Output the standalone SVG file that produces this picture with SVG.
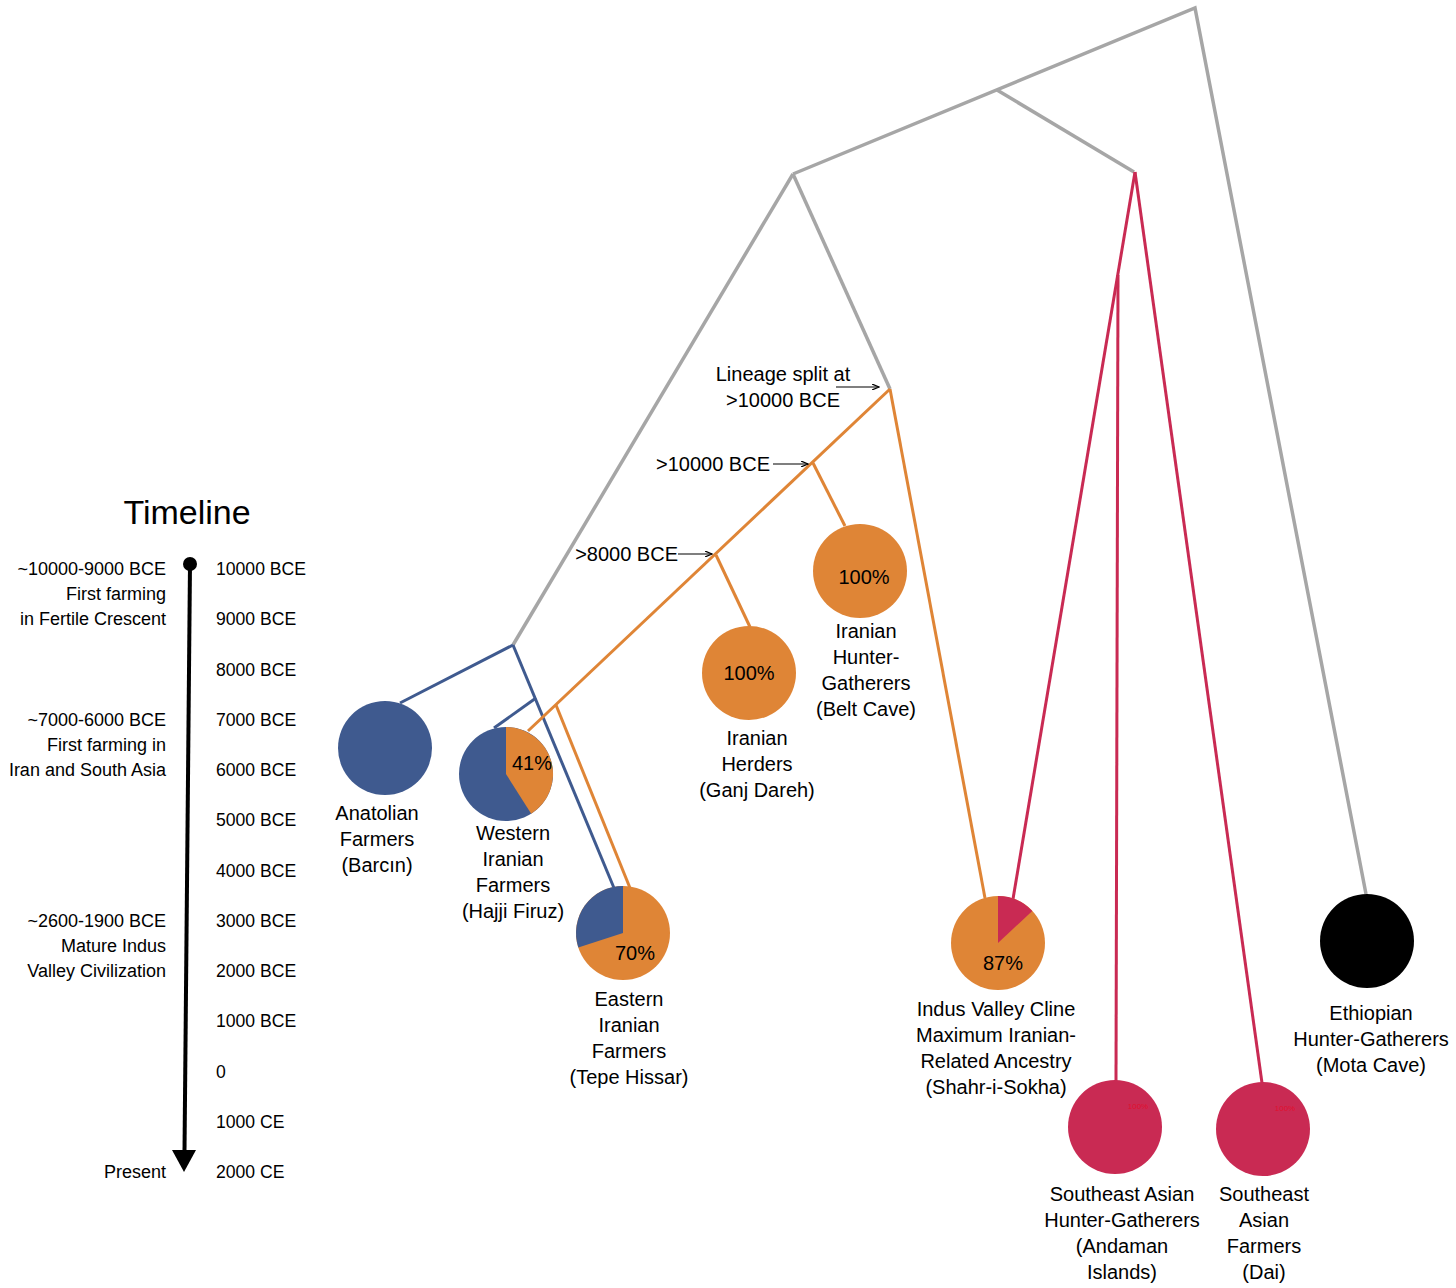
<svg xmlns="http://www.w3.org/2000/svg" width="1456" height="1288" viewBox="0 0 1456 1288">
<defs>
<style>
text{font-family:"Liberation Sans",Arial,sans-serif;fill:#000}
.t{font-size:17.6px}
.tl{font-size:18px;text-anchor:end}
.lb{font-size:20px;text-anchor:middle}
.pc{font-size:20px;text-anchor:middle}
.sm{font-size:8px;fill:#e0102e;text-anchor:middle}
.g{stroke:#a6a6a6;stroke-width:3.5;fill:none}
.b{stroke:#3f5a8f;stroke-width:3;fill:none}
.o{stroke:#df8536;stroke-width:3;fill:none}
.p{stroke:#c92a53;stroke-width:3;fill:none}
.ar{stroke:#000;stroke-width:1.2;fill:none}
</style>
<marker id="ah" markerWidth="8" markerHeight="6" refX="7" refY="3" orient="auto" markerUnits="userSpaceOnUse">
<path d="M0,0 L7,3 L0,6" fill="none" stroke="#000" stroke-width="1.2"/>
</marker>
</defs>
<rect width="1456" height="1288" fill="#fff"/>

<g id="connectors">
<polyline class="g" points="793,174 1195,8 1366,894"/>
<line class="g" x1="997" y1="90" x2="1134" y2="172"/>
<line class="g" x1="793" y1="174" x2="513" y2="645"/>
<line class="g" x1="793" y1="174" x2="890" y2="389"/>
<line class="b" x1="513" y1="645" x2="400" y2="703"/>
<line class="b" x1="513" y1="645" x2="614" y2="888"/>
<line class="b" x1="536" y1="698" x2="494" y2="728"/>
<line class="o" x1="890" y1="389" x2="528" y2="731"/>
<line class="o" x1="890" y1="389" x2="985" y2="898"/>
<line class="o" x1="813" y1="463" x2="845" y2="526"/>
<line class="o" x1="716" y1="555" x2="750" y2="627"/>
<line class="o" x1="556" y1="705" x2="630" y2="888"/>
<line class="p" x1="1135" y1="172" x2="1013" y2="899"/>
<line class="p" x1="1118" y1="275" x2="1116" y2="1081"/>
<line class="p" x1="1135" y1="172" x2="1262" y2="1083"/>
<line class="ar" x1="836" y1="387" x2="879" y2="387" marker-end="url(#ah)"/>
<line class="ar" x1="773" y1="464" x2="808" y2="464" marker-end="url(#ah)"/>
<line class="ar" x1="678" y1="554" x2="712" y2="554" marker-end="url(#ah)"/>
</g>

<g id="timeline">
<text x="187" y="524" font-size="34" text-anchor="middle">Timeline</text>
<circle cx="190" cy="564" r="7" fill="#000"/>
<line x1="190" y1="564" x2="184.5" y2="1152" stroke="#000" stroke-width="4"/>
<polygon points="172,1150 196,1150 184,1172" fill="#000"/>
<text class="t" x="216" y="575">10000 BCE</text>
<text class="t" x="216" y="625">9000 BCE</text>
<text class="t" x="216" y="676">8000 BCE</text>
<text class="t" x="216" y="726">7000 BCE</text>
<text class="t" x="216" y="776">6000 BCE</text>
<text class="t" x="216" y="826">5000 BCE</text>
<text class="t" x="216" y="877">4000 BCE</text>
<text class="t" x="216" y="927">3000 BCE</text>
<text class="t" x="216" y="977">2000 BCE</text>
<text class="t" x="216" y="1027">1000 BCE</text>
<text class="t" x="216" y="1078">0</text>
<text class="t" x="216" y="1128">1000 CE</text>
<text class="t" x="216" y="1178">2000 CE</text>
<text class="tl" x="166" y="575">~10000-9000 BCE</text>
<text class="tl" x="166" y="600">First farming</text>
<text class="tl" x="166" y="625">in Fertile Crescent</text>
<text class="tl" x="166" y="726">~7000-6000 BCE</text>
<text class="tl" x="166" y="751">First farming in</text>
<text class="tl" x="166" y="776">Iran and South Asia</text>
<text class="tl" x="166" y="927">~2600-1900 BCE</text>
<text class="tl" x="166" y="952">Mature Indus</text>
<text class="tl" x="166" y="977">Valley Civilization</text>
<text class="tl" x="166" y="1178">Present</text>
</g>

<g id="annotations">
<text class="lb" x="783" y="381">Lineage split at</text>
<text class="lb" x="783" y="407">&gt;10000 BCE</text>
<text x="770" y="471" font-size="20" text-anchor="end">&gt;10000 BCE</text>
<text x="678" y="561" font-size="20" text-anchor="end">&gt;8000 BCE</text>
</g>

<g id="anatolian">
<circle cx="385" cy="748" r="47" fill="#3f5a8f"/>
<text class="lb" x="377" y="820">Anatolian</text>
<text class="lb" x="377" y="846">Farmers</text>
<text class="lb" x="377" y="872">(Barcın)</text>
</g>

<g id="western-iranian">
<circle cx="506" cy="774" r="47" fill="#3f5a8f"/>
<path d="M506,774 L506,727 A47,47 0 0 1 531.2,813.7 Z" fill="#df8536"/>
<text class="pc" x="532" y="770">41%</text>
<text class="lb" x="513" y="840">Western</text>
<text class="lb" x="513" y="866">Iranian</text>
<text class="lb" x="513" y="892">Farmers</text>
<text class="lb" x="513" y="918">(Hajji Firuz)</text>
</g>

<g id="eastern-iranian">
<circle cx="623" cy="933" r="47" fill="#df8536"/>
<path d="M623,933 L623,886 A47,47 0 0 0 578.3,947.5 Z" fill="#3f5a8f"/>
<text class="pc" x="635" y="960">70%</text>
<text class="lb" x="629" y="1006">Eastern</text>
<text class="lb" x="629" y="1032">Iranian</text>
<text class="lb" x="629" y="1058">Farmers</text>
<text class="lb" x="629" y="1084">(Tepe Hissar)</text>
</g>

<g id="ganj-dareh">
<circle cx="749" cy="673" r="47" fill="#df8536"/>
<text class="pc" x="749" y="680">100%</text>
<text class="lb" x="757" y="745">Iranian</text>
<text class="lb" x="757" y="771">Herders</text>
<text class="lb" x="757" y="797">(Ganj Dareh)</text>
</g>

<g id="belt-cave">
<circle cx="860" cy="571" r="47" fill="#df8536"/>
<text class="pc" x="864" y="584">100%</text>
<text class="lb" x="866" y="638">Iranian</text>
<text class="lb" x="866" y="664">Hunter-</text>
<text class="lb" x="866" y="690">Gatherers</text>
<text class="lb" x="866" y="716">(Belt Cave)</text>
</g>

<g id="indus">
<circle cx="998" cy="943" r="47" fill="#df8536"/>
<path d="M998,943 L998,896 A47,47 0 0 1 1032.3,910.9 Z" fill="#c92a53"/>
<text class="pc" x="1003" y="970">87%</text>
<text class="lb" x="996" y="1016">Indus Valley Cline</text>
<text class="lb" x="996" y="1042">Maximum Iranian-</text>
<text class="lb" x="996" y="1068">Related Ancestry</text>
<text class="lb" x="996" y="1094">(Shahr-i-Sokha)</text>
</g>

<g id="se-asian-hg">
<circle cx="1115" cy="1127" r="47" fill="#c92a53"/>
<text class="sm" x="1138" y="1109">100%</text>
<text class="lb" x="1122" y="1201">Southeast Asian</text>
<text class="lb" x="1122" y="1227">Hunter-Gatherers</text>
<text class="lb" x="1122" y="1253">(Andaman</text>
<text class="lb" x="1122" y="1279">Islands)</text>
</g>

<g id="se-asian-farmers">
<circle cx="1263" cy="1129" r="47" fill="#c92a53"/>
<text class="sm" x="1285" y="1111">100%</text>
<text class="lb" x="1264" y="1201">Southeast</text>
<text class="lb" x="1264" y="1227">Asian</text>
<text class="lb" x="1264" y="1253">Farmers</text>
<text class="lb" x="1264" y="1279">(Dai)</text>
</g>

<g id="ethiopian">
<circle cx="1367" cy="941" r="47" fill="#000"/>
<text class="lb" x="1371" y="1020">Ethiopian</text>
<text class="lb" x="1371" y="1046">Hunter-Gatherers</text>
<text class="lb" x="1371" y="1072">(Mota Cave)</text>
</g>
</svg>
